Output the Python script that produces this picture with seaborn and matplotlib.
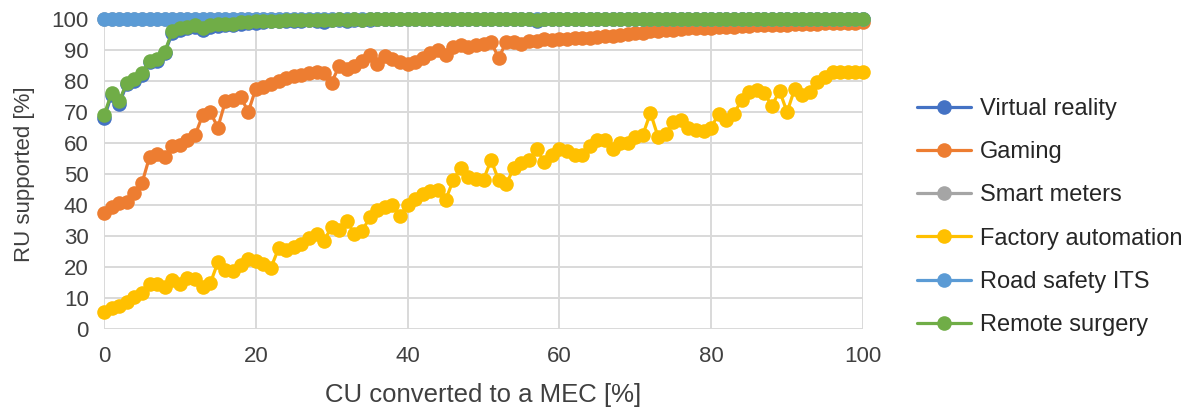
import matplotlib
matplotlib.use("Agg")
import matplotlib.pyplot as plt
from matplotlib.lines import Line2D
import seaborn as sns
import pandas as pd

# ---------------- data ----------------
cu_converted = list(range(0, 101))

series_names = ["Virtual reality", "Gaming", "Smart meters",
                "Factory automation", "Road safety ITS", "Remote surgery"]

virtual_reality = [
    68, 75.5, 72.5, 79, 80, 82, 86, 86.5, 89, 95.5,
    96.5, 97, 97.3, 96.3, 97.5, 97.8, 98, 98.2, 98.5, 98.7,
    98.8, 99, 99.2, 99.3, 99.4, 99.5, 99.5, 99.6, 99.5, 99,
    99.7, 99.8, 99.5, 99.8, 99.6, 99.8, 99.9, 99.9, 99.9, 99.9,
    100, 100, 100, 100, 100, 100, 100, 100, 100, 100,
    100, 100, 100, 100, 100, 100, 100, 99.5, 100, 100,
    100, 100, 100, 100, 100, 100, 100, 100, 100, 100,
    100, 100, 100, 100, 100, 100, 100, 100, 100, 100,
    100, 100, 100, 100, 100, 100, 100, 100, 100, 100,
    100, 100, 100, 100, 100, 100, 100, 100, 100, 100,
    100,
]

gaming = [
    37.5, 39.5, 40.5, 41, 44, 47, 55.5, 56.5, 55.5, 59,
    59.5, 61, 62.5, 69, 70, 65, 73.5, 74, 75, 70,
    77.5, 78, 79, 80, 81, 81.5, 82, 82.5, 83, 82.5,
    79.5, 85, 84, 85, 86.5, 88.5, 85.5, 88, 87, 86,
    85.5, 86, 87.5, 89, 90, 88.5, 91, 91.5, 91, 91.5,
    92, 92.5, 87.5, 92.5, 92.5, 92, 93, 93, 93.5, 93.2,
    93.5, 93.5, 94, 93.8, 94, 94.2, 94.5, 94.5, 95, 95.2,
    95.5, 95.5, 96, 96.2, 96.5, 96.5, 96.8, 97, 97, 97.2,
    97.2, 97.5, 97.5, 97.5, 97.8, 97.8, 98, 98, 98, 98.2,
    98.2, 98.5, 98.5, 98.5, 98.5, 98.7, 98.7, 98.7, 98.8, 98.8,
    99,
]

smart_meters = [
    100, 100, 100, 100, 100, 100, 100, 100, 100, 100,
    100, 100, 100, 100, 100, 100, 100, 100, 100, 100,
    100, 100, 100, 100, 100, 100, 100, 100, 100, 100,
    100, 100, 100, 100, 100, 100, 100, 100, 100, 100,
    100, 100, 100, 100, 100, 100, 100, 100, 100, 100,
    100, 100, 100, 100, 100, 100, 100, 100, 100, 100,
    100, 100, 100, 100, 100, 100, 100, 100, 100, 100,
    100, 100, 100, 100, 100, 100, 100, 100, 100, 100,
    100, 100, 100, 100, 100, 100, 100, 100, 100, 100,
    100, 100, 100, 100, 100, 100, 100, 100, 100, 100,
    100,
]

factory_automation = [
    5.6, 6.7, 7.4, 8.8, 10.4, 11.5, 14.5, 14.5, 13.5, 15.8,
    14.5, 16.5, 16, 13.5, 14.7, 21.5, 19, 18.8, 20.5, 22.5,
    22, 21, 19.8, 26, 25.5, 26.5, 27.5, 29.5, 30.5, 28.5,
    33, 32, 35, 30.5, 31.5, 36, 38.5, 39.5, 40, 36.5,
    40, 42, 43.5, 44.5, 45, 41.5, 48, 52, 49, 48.5,
    48.2, 54.5, 48, 46.8, 52, 53.5, 54.5, 58, 54, 56,
    58.2, 57.3, 56.2, 56, 59, 61, 61, 58, 60, 60,
    62, 62.7, 69.7, 62, 63, 66.8, 67.3, 65, 64.3, 64,
    65, 69.5, 67.3, 69.5, 73.8, 76.5, 77, 76, 72, 76.8,
    70, 77.5, 75.4, 76.5, 79.7, 81.3, 83, 83, 83, 83,
    83,
]

road_safety_its = [
    100, 100, 100, 100, 100, 100, 100, 100, 100, 100,
    100, 100, 100, 100, 100, 100, 100, 100, 100, 100,
    100, 100, 100, 100, 100, 100, 100, 100, 100, 100,
    100, 100, 100, 100, 100, 100, 100, 100, 100, 100,
    100, 100, 100, 100, 100, 100, 100, 100, 100, 100,
    100, 100, 100, 100, 100, 100, 100, 100, 100, 100,
    100, 100, 100, 100, 100, 100, 100, 100, 100, 100,
    100, 100, 100, 100, 100, 100, 100, 100, 100, 100,
    100, 100, 100, 100, 100, 100, 100, 100, 100, 100,
    100, 100, 100, 100, 100, 100, 100, 100, 100, 100,
    100,
]

remote_surgery = [
    69, 76, 73.5, 79.5, 80.5, 82.5, 86.5, 87, 89.5, 96,
    97, 97.5, 98, 97, 98, 98.3, 98.5, 98.5, 99, 99,
    99.2, 99.3, 99.5, 99.5, 99.6, 99.7, 99.7, 99.8, 99.8, 99.6,
    99.8, 99.9, 99.8, 99.9, 99.8, 99.9, 100, 100, 100, 100,
    100, 100, 100, 100, 100, 100, 100, 100, 100, 100,
    100, 100, 100, 100, 100, 100, 100, 99.7, 100, 100,
    100, 100, 100, 100, 100, 100, 100, 100, 100, 100,
    100, 100, 100, 100, 100, 100, 100, 100, 100, 100,
    100, 100, 100, 100, 100, 100, 100, 100, 100, 100,
    100, 100, 100, 100, 100, 100, 100, 100, 100, 100,
    100,
]

x_ticks = [0, 20, 40, 60, 80, 100]
y_ticks = [0, 10, 20, 30, 40, 50, 60, 70, 80, 90, 100]
x_title = "CU converted to a MEC [%]"
y_title = "RU supported [%]"

colors = ["#4472C4", "#ED7D31", "#A5A5A5", "#FFC000", "#5B9BD5", "#70AD47"]

# ---------------- frame ----------------
values = [virtual_reality, gaming, smart_meters,
          factory_automation, road_safety_its, remote_surgery]
frames = []
for name, vals in zip(series_names, values):
    frames.append(pd.DataFrame({"x": cu_converted, "y": vals, "series": name}))
df = pd.concat(frames, ignore_index=True)

# ---------------- plot ----------------
sns.set_theme(style="white")
plt.rcParams["font.family"] = ["Liberation Sans", "DejaVu Sans"]

fig = plt.figure(figsize=(11.95, 4.12), dpi=100)
ax = fig.add_axes([104 / 1195, 1 - 329 / 412, (863 - 104) / 1195, (329 - 19) / 412])

palette = dict(zip(series_names, colors))
sns.lineplot(data=df, x="x", y="y", hue="series", hue_order=series_names,
             palette=palette, marker="o", markersize=10.5, markeredgewidth=0,
             linewidth=2.3, legend=False, ax=ax, sort=False)
for ln in ax.lines:
    ln.set_clip_on(False)

ax.set_xlim(0, 100)
ax.set_ylim(0, 100)
ax.set_xticks(x_ticks)
ax.set_yticks(y_ticks)
ax.grid(True, color="#d9d9d9", linewidth=1.4)
ax.set_axisbelow(True)
for s in ax.spines.values():
    s.set_visible(False)
ax.tick_params(axis="both", length=0, labelsize=16, colors="#404040")
ax.tick_params(axis="y", pad=11)
ax.tick_params(axis="x", pad=12)
ax.set_xlabel(x_title, fontsize=18.5, color="#404040", labelpad=12)
ax.set_ylabel(y_title, fontsize=16, color="#404040", labelpad=12)

handles = [Line2D([0], [0], color=c, linewidth=2.3, marker="o", markersize=10.5,
                  markeredgewidth=0) for c in colors]
fig.legend(handles, series_names, loc="center left",
           bbox_to_anchor=(917 / 1195, 1 - 217 / 412), frameon=False,
           fontsize=17, handlelength=2.3, handletextpad=0.35,
           labelspacing=0.9, borderpad=0, borderaxespad=0,
           labelcolor="#262626")

fig.savefig("out.png", dpi=100)
